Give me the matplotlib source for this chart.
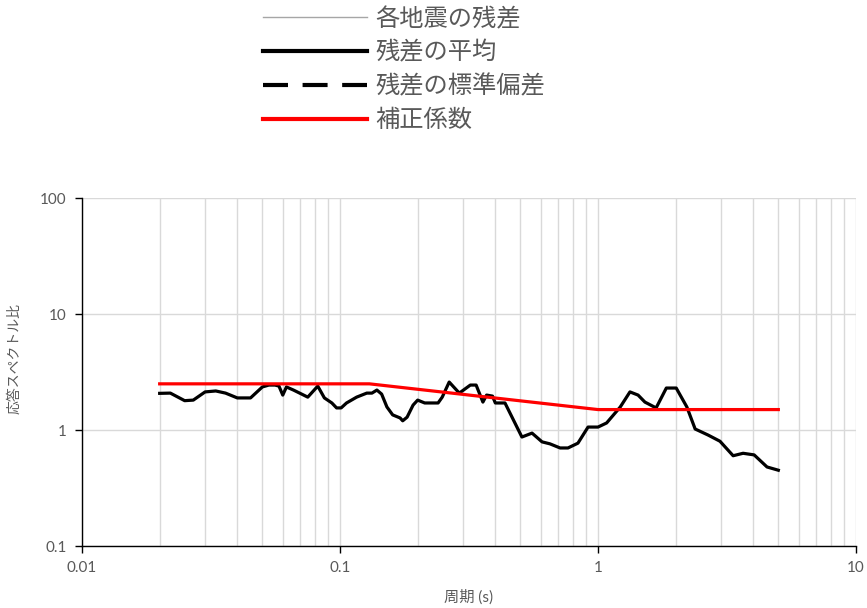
import matplotlib
matplotlib.use("Agg")
import matplotlib.pyplot as plt
from matplotlib.lines import Line2D
from matplotlib.ticker import LogLocator, FixedLocator, NullFormatter

plt.rcParams['font.family'] = ['Lato', 'Noto Sans CJK JP', 'DejaVu Sans']

# Mean residual (period [s], spectral ratio)
period_mean = [0.020, 0.022, 0.025, 0.027, 0.030, 0.033, 0.036, 0.040, 0.045, 0.050,
               0.053, 0.056, 0.058, 0.060, 0.062, 0.066, 0.071, 0.075, 0.082, 0.087,
               0.093, 0.097, 0.101, 0.106, 0.116, 0.127, 0.133, 0.139, 0.145, 0.152,
               0.160, 0.171, 0.175, 0.182, 0.192, 0.200, 0.213, 0.240, 0.249, 0.265,
               0.290, 0.320, 0.337, 0.358, 0.370, 0.390, 0.400, 0.436, 0.507, 0.555,
               0.607, 0.651, 0.713, 0.765, 0.836, 0.915, 1.00, 1.08, 1.22, 1.33,
               1.43, 1.52, 1.68, 1.84, 2.01, 2.21, 2.38, 2.67, 2.97, 3.34,
               3.65, 4.03, 4.52, 5.00]
ratio_mean = [2.07, 2.08, 1.79, 1.81, 2.13, 2.17, 2.08, 1.89, 1.89, 2.35,
              2.44, 2.44, 2.39, 2.00, 2.35, 2.21, 2.04, 1.92, 2.39, 1.89,
              1.71, 1.55, 1.55, 1.71, 1.92, 2.08, 2.08, 2.21, 2.04, 1.58,
              1.35, 1.27, 1.20, 1.29, 1.64, 1.81, 1.71, 1.71, 1.92, 2.59,
              2.08, 2.44, 2.44, 1.74, 2.00, 1.96, 1.71, 1.71, 0.87, 0.94,
              0.79, 0.76, 0.70, 0.70, 0.77, 1.06, 1.06, 1.15, 1.58, 2.13,
              2.00, 1.74, 1.55, 2.30, 2.30, 1.58, 1.02, 0.905, 0.80, 0.60,
              0.63, 0.61, 0.48, 0.45]

# Correction factor
period_corr = [0.02, 0.13, 1.0, 5.0]
factor_corr = [2.5, 2.5, 1.5, 1.5]

legend_labels = ['各地震の残差', '残差の平均', '残差の標準偏差', '補正係数']
xtick_vals = [0.01, 0.1, 1, 10]
xtick_labels = ['0.01', '0.1', '1', '10']
ytick_vals = [0.1, 1, 10, 100]
ytick_labels = ['0.1', '1', '10', '100']

TEXT = '#595959'
GRID = '#d9d9d9'

fig = plt.figure(figsize=(8.67, 6.08), dpi=100)
ax = fig.add_axes([82/867, 62/608, 774/867, 348/608])

ax.plot(period_mean, ratio_mean, color='black', lw=2.3, solid_joinstyle='round', zorder=3)
ax.plot(period_corr, factor_corr, color='#ff0000', lw=2.3, zorder=4)

ax.set_xscale('log')
ax.set_yscale('log')
ax.set_xlim(0.01, 10)
ax.set_ylim(0.1, 100)

ax.set_xticks(xtick_vals)
ax.set_xticklabels(xtick_labels)
ax.set_yticks(ytick_vals)
ax.set_yticklabels(ytick_labels)
ax.xaxis.set_minor_locator(LogLocator(base=10, subs=range(2, 10)))
ax.xaxis.set_minor_formatter(NullFormatter())
ax.yaxis.set_minor_locator(FixedLocator([]))

ax.grid(True, which='both', axis='x', color=GRID, lw=1.0, zorder=0)
ax.grid(True, which='major', axis='y', color=GRID, lw=1.0, zorder=0)
ax.set_axisbelow(True)

for s in ['top', 'right']:
    ax.spines[s].set_visible(False)
for s in ['left', 'bottom']:
    ax.spines[s].set_color('black')
    ax.spines[s].set_linewidth(1.0)

ax.tick_params(axis='both', which='major', direction='out', length=5, width=1,
               color='black', labelcolor=TEXT, labelsize=11, pad=6)
ax.tick_params(axis='x', which='minor', length=0)

ax.set_xlabel('周期 (s)', color=TEXT, fontsize=11, labelpad=10)
ax.set_ylabel('応答スペクトル比', color=TEXT, fontsize=10)
ax.yaxis.set_label_coords(-62/774, 1 - 161/348)

handles = [
    Line2D([], [], color='#a6a6a6', lw=1.0),
    Line2D([], [], color='black', lw=3.0),
    Line2D([], [], color='black', lw=3.0, linestyle=(0, (6, 3.5))),
    Line2D([], [], color='#ff0000', lw=3.0),
]
leg = fig.legend(handles, legend_labels, loc='upper left',
                 bbox_to_anchor=(263/867, 1 - 6/608), frameon=False,
                 borderpad=0, borderaxespad=0,
                 handlelength=4.28, handletextpad=0.33, labelspacing=0.32,
                 prop={'family': ['Noto Sans CJK JP'], 'size': 17.5})
for t in leg.get_texts():
    t.set_color(TEXT)

fig.savefig('out.png', dpi=100)
